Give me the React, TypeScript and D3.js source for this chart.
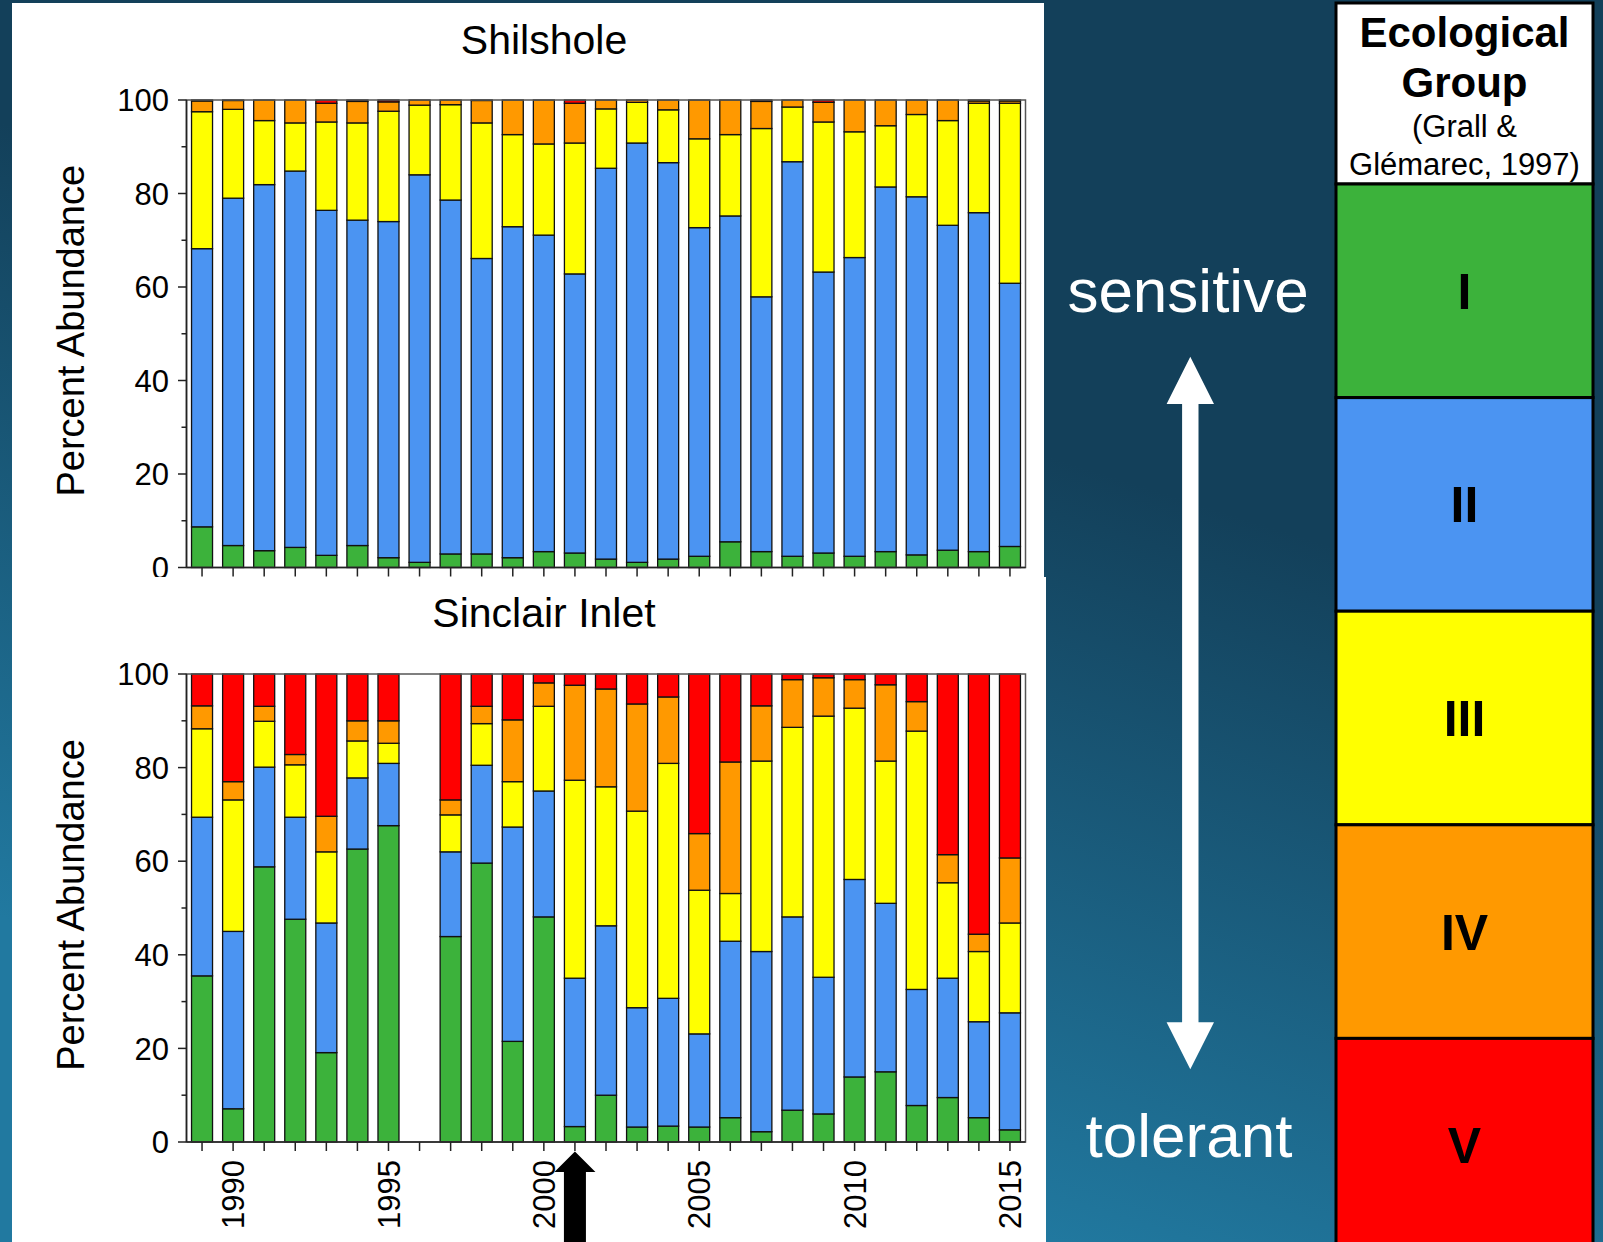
import React from "react";
import * as d3 from "d3";

// Survey years shown on the x axis
const years = [
  1989, 1990, 1991, 1992, 1993, 1994, 1995, 1996, 1997, 1998, 1999, 2000, 2001, 2002,
  2003, 2004, 2005, 2006, 2007, 2008, 2009, 2010, 2011, 2012, 2013, 2014, 2015,
];
const labelYears = [1990, 1995, 2000, 2005, 2010, 2015];
const yTicks = [0, 20, 40, 60, 80, 100];

// Ecological groups (Grall & Glémarec, 1997), sensitive -> tolerant
const groups = ["I", "II", "III", "IV", "V"];
const groupColors = ["#3cb23b", "#4b94f2", "#ffff00", "#ff9900", "#ff0000"];

// Shilshole: percent abundance of each group per year
const shilsholeI = [8.7, 4.7, 3.6, 4.3, 2.6, 4.7, 2.1, 1.1, 2.9, 2.9, 2.1, 3.4, 3.1, 1.8, 1.1, 1.8, 2.4, 5.5, 3.4, 2.4, 3.1, 2.4, 3.4, 2.7, 3.7, 3.4, 4.5];
const shilsholeII = [59.5, 74.3, 78.3, 80.5, 73.8, 69.6, 71.9, 82.9, 75.7, 63.2, 70.8, 67.7, 59.7, 83.6, 89.7, 84.8, 70.3, 69.7, 54.5, 84.4, 60.1, 63.9, 78.0, 76.6, 69.5, 72.5, 56.3];
const shilsholeIII = [29.3, 19.0, 13.7, 10.3, 18.9, 20.8, 23.6, 14.9, 20.4, 29.0, 19.7, 19.5, 28.0, 12.7, 8.7, 11.3, 19.0, 17.4, 36.0, 11.7, 32.1, 26.9, 13.1, 17.6, 22.4, 23.4, 38.5];
const shilsholeIV = [2.3, 1.9, 4.4, 4.9, 4.0, 4.6, 2.0, 1.1, 1.0, 4.8, 7.4, 9.4, 8.5, 1.9, 0.5, 2.1, 8.3, 7.4, 5.8, 1.5, 4.2, 6.8, 5.5, 3.1, 4.4, 0.5, 0.5];
const shilsholeV = [0.2, 0.1, 0, 0, 0.7, 0.3, 0.4, 0, 0, 0.1, 0, 0, 0.7, 0, 0, 0, 0, 0, 0.3, 0, 0.5, 0, 0, 0, 0, 0.2, 0.2];

// Sinclair Inlet: percent abundance of each group per year (no sample in 1996)
const sinclairI = [35.5, 7.1, 58.8, 47.6, 19.1, 62.6, 67.6, null, 43.9, 59.6, 21.5, 48.1, 3.3, 10.0, 3.2, 3.4, 3.2, 5.2, 2.2, 6.8, 6.0, 13.9, 15.0, 7.8, 9.5, 5.2, 2.6];
const sinclairII = [33.9, 37.9, 21.3, 21.8, 27.7, 15.2, 13.3, null, 18.1, 20.9, 45.8, 26.9, 31.7, 36.2, 25.5, 27.3, 19.9, 37.7, 38.5, 41.3, 29.2, 42.2, 36.0, 24.8, 25.5, 20.5, 25.0];
const sinclairIII = [18.9, 28.1, 9.8, 11.2, 15.2, 7.9, 4.3, null, 7.9, 8.9, 9.7, 18.1, 42.3, 29.7, 42.0, 50.2, 30.7, 10.2, 40.7, 40.5, 55.8, 36.6, 30.4, 55.2, 20.4, 15.0, 19.2];
const sinclairIV = [4.9, 3.9, 3.2, 2.2, 7.6, 4.3, 4.8, null, 3.2, 3.7, 13.2, 5.0, 20.3, 20.9, 22.9, 14.2, 12.1, 28.1, 11.8, 10.2, 8.2, 6.1, 16.3, 6.3, 6.0, 3.7, 13.9];
const sinclairV = [6.8, 23.0, 6.9, 17.2, 30.4, 10.0, 10.0, null, 26.9, 6.9, 9.8, 1.9, 2.4, 3.2, 6.4, 4.9, 34.1, 18.8, 6.8, 1.2, 0.8, 1.2, 2.3, 5.9, 38.6, 55.6, 39.3];

const FONT = "'Liberation Sans', Arial, Helvetica, sans-serif";

type Row = { year: number; [k: string]: number };

function buildRows(cols: (number | null)[][]): Row[] {
  const rows: Row[] = [];
  years.forEach((year, i) => {
    if (cols[0][i] == null) return;
    const r: Row = { year };
    groups.forEach((g, gi) => {
      r[g] = cols[gi][i] as number;
    });
    rows.push(r);
  });
  return rows;
}

const shilsholeRows = buildRows([shilsholeI, shilsholeII, shilsholeIII, shilsholeIV, shilsholeV]);
const sinclairRows = buildRows([sinclairI, sinclairII, sinclairIII, sinclairIV, sinclairV]);

const x = d3.scaleLinear().domain([1988.5, 2015.5]).range([186.5, 1025.5]);
const BAR_W = 21;

function StackedPanel({
  title,
  rows,
  top,
  bottom,
  titleY,
  showYearLabels,
}: {
  title: string;
  rows: Row[];
  top: number;
  bottom: number;
  titleY: number;
  showYearLabels: boolean;
}) {
  const y = d3.scaleLinear().domain([0, 100]).range([bottom, top]);
  const series = d3.stack<Row>().keys(groups)(rows);
  const [x0, x1] = x.range();
  const minor = [10, 30, 50, 70, 90];
  return (
    <g>
      <text x={544} y={titleY} fontSize={41} fontFamily={FONT} textAnchor="middle" fill="#000">
        {title}
      </text>
      <text
        transform={`translate(84,${(top + bottom) / 2 - 3}) rotate(-90)`}
        fontSize={38}
        fontFamily={FONT}
        textAnchor="middle"
        fill="#000"
      >
        Percent Abundance
      </text>
      {series.map((s, si) => (
        <g key={s.key} fill={groupColors[si]} stroke="#111" strokeWidth={1.3}>
          {s.map((d) =>
            d[1] - d[0] > 0 ? (
              <rect
                key={d.data.year}
                x={x(d.data.year) - BAR_W / 2}
                y={y(d[1])}
                width={BAR_W}
                height={y(d[0]) - y(d[1])}
              />
            ) : null
          )}
        </g>
      ))}
      {/* frame */}
      <rect x={x0} y={top} width={x1 - x0} height={bottom - top} fill="none" stroke="#555" strokeWidth={1.5} />
      <line x1={x0} x2={x0} y1={top} y2={bottom} stroke="#222" strokeWidth={1.6} />
      <line x1={x0} x2={x1} y1={bottom} y2={bottom} stroke="#222" strokeWidth={1.6} />
      {/* y ticks */}
      {yTicks.map((t) => (
        <g key={t}>
          <line x1={x0 - 8.5} x2={x0} y1={y(t)} y2={y(t)} stroke="#222" strokeWidth={1.5} />
          <text x={169} y={y(t)} dy="0.36em" fontSize={31} fontFamily={FONT} textAnchor="end" fill="#000">
            {t}
          </text>
        </g>
      ))}
      {minor.map((t) => (
        <line key={t} x1={x0 - 5} x2={x0} y1={y(t)} y2={y(t)} stroke="#222" strokeWidth={1.5} />
      ))}
      {/* x ticks */}
      {years.map((yr) => (
        <line key={yr} x1={x(yr)} x2={x(yr)} y1={bottom} y2={bottom + 9} stroke="#222" strokeWidth={1.5} />
      ))}
      {showYearLabels &&
        labelYears.map((yr) => (
          <text
            key={yr}
            transform={`translate(${x(yr)},${bottom + 18}) rotate(-90)`}
            dy="0.36em"
            fontSize={31}
            fontFamily={FONT}
            textAnchor="end"
            fill="#000"
          >
            {yr}
          </text>
        ))}
    </g>
  );
}

export default function App() {
  const W = 1603;
  const H = 1242;
  const legendX = 1336;
  const legendW = 257;
  const headerTop = 3;
  const headerBottom = 184;
  const boxH = 213.6;
  const legendCx = legendX + legendW / 2;

  // arrow marking 2001 on the Sinclair Inlet axis
  const ax = x(2001);
  const arrowPts = [
    [ax, 1151.5],
    [ax + 20.5, 1172],
    [ax + 11, 1172],
    [ax + 11, 1245],
    [ax - 11, 1245],
    [ax - 11, 1172],
    [ax - 20.5, 1172],
  ];

  // white double-headed arrow between "sensitive" and "tolerant"
  const cx = 1190.3;
  const dbl = [
    [cx, 356.7],
    [cx + 23.7, 404],
    [cx + 8.2, 404],
    [cx + 8.2, 1022.3],
    [cx + 23.7, 1022.3],
    [cx, 1069.3],
    [cx - 23.7, 1022.3],
    [cx - 8.2, 1022.3],
    [cx - 8.2, 404],
    [cx - 23.7, 404],
  ];

  return (
    <svg
      width={W}
      height={H}
      viewBox={`0 0 ${W} ${H}`}
      style={{ position: "absolute", left: 0, top: 0, display: "block" }}
    >
      <defs>
        <linearGradient id="bg" gradientUnits="userSpaceOnUse" x1={1250} y1={520} x2={1020} y2={1242}>
          <stop offset="0" stopColor="#13405a" />
          <stop offset="1" stopColor="#2179a0" />
        </linearGradient>
      </defs>
      <rect x={0} y={0} width={W} height={H} fill="url(#bg)" />

      {/* upper chart */}
      <rect x={12} y={3} width={1032} height={576} fill="#fff" />
      <StackedPanel title="Shilshole" rows={shilsholeRows} top={100} bottom={567.5} titleY={53.5} showYearLabels={false} />

      {/* lower chart */}
      <rect x={12} y={577} width={1034} height={H - 577} fill="#fff" />
      <StackedPanel title="Sinclair Inlet" rows={sinclairRows} top={674} bottom={1142} titleY={627} showYearLabels={true} />
      <polygon points={arrowPts.map((p) => p.join(",")).join(" ")} fill="#000" />

      {/* sensitivity scale */}
      <text x={1188} y={311.7} fontSize={62} fontFamily={FONT} textAnchor="middle" fill="#fff">
        sensitive
      </text>
      <polygon points={dbl.map((p) => p.join(",")).join(" ")} fill="#fff" />
      <text x={1189} y={1156.7} fontSize={62} fontFamily={FONT} textAnchor="middle" fill="#fff">
        tolerant
      </text>

      {/* legend */}
      <rect x={legendX} y={headerTop} width={legendW} height={headerBottom - headerTop} fill="#fff" stroke="#000" strokeWidth={3} />
      <text x={legendCx} y={47} fontSize={42} fontWeight="bold" fontFamily={FONT} textAnchor="middle">
        Ecological
      </text>
      <text x={legendCx} y={97} fontSize={42} fontWeight="bold" fontFamily={FONT} textAnchor="middle">
        Group
      </text>
      <text x={legendCx} y={137} fontSize={31} fontFamily={FONT} textAnchor="middle">
        (Grall &amp;
      </text>
      <text x={legendCx} y={175} fontSize={31} fontFamily={FONT} textAnchor="middle">
        Glémarec, 1997)
      </text>
      {groups.map((g, i) => {
        const by = headerBottom + i * boxH;
        return (
          <g key={g}>
            <rect x={legendX} y={by} width={legendW} height={boxH} fill={groupColors[i]} stroke="#000" strokeWidth={3} />
            <text
              x={legendCx}
              y={by + boxH / 2}
              dy="0.36em"
              fontSize={50}
              fontWeight="bold"
              fontFamily={FONT}
              textAnchor="middle"
              fill="#000"
            >
              {g}
            </text>
          </g>
        );
      })}
    </svg>
  );
}
